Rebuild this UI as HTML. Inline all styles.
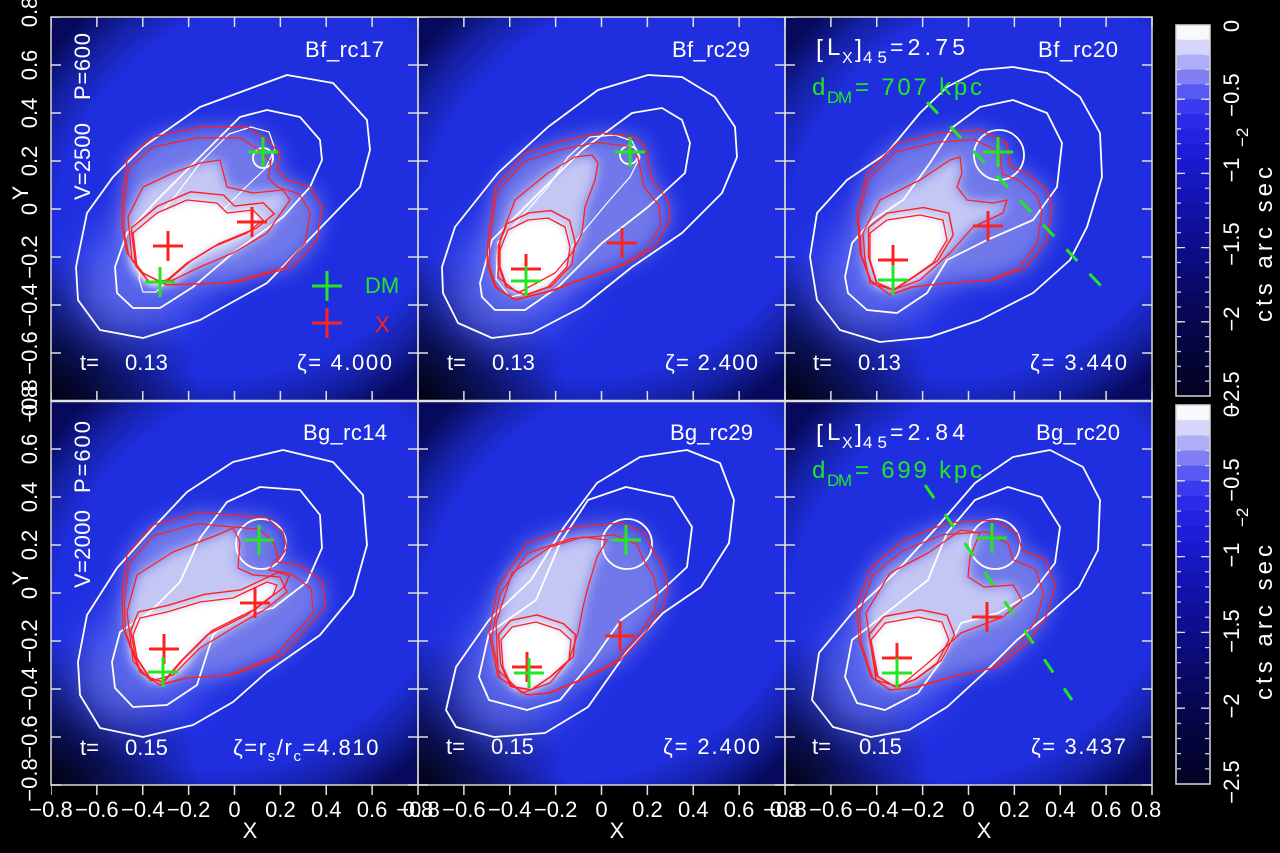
<!DOCTYPE html>
<html><head><meta charset="utf-8"><style>
html,body{margin:0;padding:0;background:#000;width:1280px;height:853px;overflow:hidden;}
svg{display:block;}
text{font-family:"Liberation Sans",sans-serif;}
</style></head><body>
<svg width="1280" height="853" viewBox="0 0 1280 853" xmlns="http://www.w3.org/2000/svg" style="overflow:hidden">
<defs>
<filter id="b20" x="-60%" y="-60%" width="220%" height="220%"><feGaussianBlur stdDeviation="20"/></filter>
<filter id="b10" x="-60%" y="-60%" width="220%" height="220%"><feGaussianBlur stdDeviation="10"/></filter>
<filter id="b6" x="-60%" y="-60%" width="220%" height="220%"><feGaussianBlur stdDeviation="6"/></filter>
<filter id="b4" x="-60%" y="-60%" width="220%" height="220%"><feGaussianBlur stdDeviation="4"/></filter>
<clipPath id="pc"><rect x="0" y="0" width="367" height="384"/></clipPath>
<radialGradient id="corner" cx="0" cy="384" r="150" gradientUnits="userSpaceOnUse">
<stop offset="0" stop-color="#000006" stop-opacity="0.85"/><stop offset="0.5" stop-color="#000006" stop-opacity="0.45"/><stop offset="1" stop-color="#000006" stop-opacity="0"/>
</radialGradient>
<radialGradient id="h1" gradientUnits="userSpaceOnUse" cx="210" cy="170" r="300" gradientTransform="rotate(-35 210 170) translate(210 170) scale(1 0.808) translate(-210 -170)">
<stop offset="0" stop-color="#1f2fe0"/><stop offset="0.72" stop-color="#1f2fe0"/><stop offset="0.87" stop-color="#1420a4"/><stop offset="1" stop-color="#070a5c"/>
</radialGradient>
<radialGradient id="h2" gradientUnits="userSpaceOnUse" cx="205" cy="175" r="300" gradientTransform="rotate(-38 205 175) translate(205 175) scale(1 0.808) translate(-205 -175)">
<stop offset="0" stop-color="#1f2fe0"/><stop offset="0.72" stop-color="#1f2fe0"/><stop offset="0.87" stop-color="#1420a4"/><stop offset="1" stop-color="#070a5c"/>
</radialGradient>
<radialGradient id="h3" gradientUnits="userSpaceOnUse" cx="200" cy="180" r="300" gradientTransform="rotate(-45 200 180) translate(200 180) scale(1 0.808) translate(-200 -180)">
<stop offset="0" stop-color="#1f2fe0"/><stop offset="0.72" stop-color="#1f2fe0"/><stop offset="0.87" stop-color="#1420a4"/><stop offset="1" stop-color="#070a5c"/>
</radialGradient>
<g id="bands">
<rect x="0" y="0" width="34" height="1.05" fill="#f8f8ff"/>
<rect x="0" y="1" width="34" height="1.05" fill="#d6d6fc"/>
<rect x="0" y="2" width="34" height="1.05" fill="#adadf8"/>
<rect x="0" y="3" width="34" height="1.05" fill="#8080f4"/>
<rect x="0" y="4" width="34" height="1.05" fill="#5858f2"/>
<rect x="0" y="5" width="34" height="1.05" fill="#3a3aee"/>
<rect x="0" y="6" width="34" height="1.05" fill="#2a2ae8"/>
<rect x="0" y="7" width="34" height="1.05" fill="#2222e0"/>
<rect x="0" y="8" width="34" height="1.05" fill="#1d1dd6"/>
<rect x="0" y="9" width="34" height="1.05" fill="#1a1acc"/>
<rect x="0" y="10" width="34" height="1.05" fill="#1717c0"/>
<rect x="0" y="11" width="34" height="1.05" fill="#1414b4"/>
<rect x="0" y="12" width="34" height="1.05" fill="#1212a8"/>
<rect x="0" y="13" width="34" height="1.05" fill="#10109c"/>
<rect x="0" y="14" width="34" height="1.05" fill="#0e0e90"/>
<rect x="0" y="15" width="34" height="1.05" fill="#0c0c84"/>
<rect x="0" y="16" width="34" height="1.05" fill="#0b0b78"/>
<rect x="0" y="17" width="34" height="1.05" fill="#0a0a6c"/>
<rect x="0" y="18" width="34" height="1.05" fill="#080860"/>
<rect x="0" y="19" width="34" height="1.05" fill="#070756"/>
<rect x="0" y="20" width="34" height="1.05" fill="#06064c"/>
<rect x="0" y="21" width="34" height="1.05" fill="#050542"/>
<rect x="0" y="22" width="34" height="1.05" fill="#040438"/>
<rect x="0" y="23" width="34" height="1.05" fill="#03032e"/>
<rect x="0" y="24" width="34" height="1" fill="#020224"/>
</g>
<pattern id="tx" x="50.25" y="0" width="45.875" height="853" patternUnits="userSpaceOnUse"><rect x="0" y="0" width="1.5" height="853" fill="#e0e0e0"/></pattern>
<pattern id="ty" x="0" y="16.25" width="1280" height="48" patternUnits="userSpaceOnUse"><rect x="0" y="0" width="1280" height="1.5" fill="#e0e0e0"/></pattern>
<pattern id="ct1" x="0" y="24.4" width="1280" height="14.84" patternUnits="userSpaceOnUse"><rect x="0" y="0" width="1280" height="1.2" fill="#e0e0e0"/></pattern>
<pattern id="ct2" x="0" y="404.4" width="1280" height="15.16" patternUnits="userSpaceOnUse"><rect x="0" y="0" width="1280" height="1.2" fill="#e0e0e0"/></pattern>

<polygon id="p1o" points="25,250 36,196 62,160 92,130 149,90 236,58 282,66 316,103 319,133 309,170 216,266 149,303 92,321 49,313 27,283"/>
<polygon id="p1i" points="64,250 76,216 106,183 149,140 189,100 216,93 249,100 269,123 271,143 259,170 232,200 182,236 142,270 109,291 82,291 66,276"/>
<polygon id="p1t" points="88,262 92,228 106,200 125,178 150,145 178,117 200,110 218,115 224,132 214,152 195,170 170,195 145,225 125,255 105,275 92,275"/>
<polygon id="p1ro" points="71,183 76,143 102,120 149,110 196,110 216,123 229,136 226,153 236,163 259,170 271,190 266,223 242,250 182,266 116,268 92,256 76,236 71,210"/>
<polygon id="p1rm" points="77,200 92,170 122,156 149,146 169,143 176,170 202,176 232,173 239,183 216,216 182,236 149,250 122,263 99,266 81,243"/>
<polygon id="p1rc" points="82,216 106,196 136,183 166,186 176,196 202,193 212,203 196,216 162,230 136,246 116,263 99,266 86,250"/>

<polygon id="p2o" points="24,250 37,210 80,156 130,110 180,73 230,58 264,60 297,80 317,110 319,140 304,176 264,216 214,250 164,290 114,316 74,321 40,306 25,276"/>
<polygon id="p2i" points="62,266 74,223 114,183 164,133 214,96 244,91 264,103 272,126 267,156 230,190 184,226 140,270 107,293 77,293 64,280"/>
<polygon id="p2t" points="78,262 80,225 107,196 130,170 150,140 172,120 197,118 214,124 222,140 212,160 190,185 165,215 140,248 115,275 92,280"/>
<polygon id="p2ro" points="70,223 77,170 107,136 147,123 184,116 217,120 227,130 230,143 234,163 250,183 252,203 237,230 210,246 184,256 154,266 137,273 97,283 77,270 69,246"/>
<polygon id="p2rm" points="82,223 97,183 130,156 157,140 174,138 180,146 177,163 167,190 164,216 154,236 137,256 100,276 80,260"/>
<polygon id="p2rc" points="82,233 90,213 110,203 130,201 147,210 152,230 149,250 130,270 107,278 89,270 82,250"/>

<polygon id="p3o" points="25,240 32,196 62,163 102,136 135,96 162,70 195,53 228,50 262,56 295,80 315,116 317,160 302,210 285,243 248,276 195,303 145,320 95,325 55,313 32,283"/>
<polygon id="p3i" points="60,260 67,226 88,203 118,183 145,146 168,110 195,90 228,83 262,96 277,126 272,170 248,203 202,223 162,243 142,276 112,296 82,293 63,276"/>
<polygon id="p3ro" points="72,196 82,156 112,126 155,116 195,113 222,126 225,150 242,156 262,173 267,190 262,223 242,250 208,263 162,266 128,270 105,278 85,263 75,236"/>
<polygon id="p3rm" points="78,216 95,183 135,163 165,143 175,140 177,156 172,170 182,183 208,186 222,183 218,196 188,210 165,236 135,263 108,273 85,266 80,243"/>
<polygon id="p3rc" points="85,216 102,203 135,198 158,203 162,223 148,246 128,260 108,273 92,266 85,243"/>

<polygon id="p4o" points="27,261 36,214 66,167 102,127 136,91 182,61 232,49 282,61 312,94 316,144 302,194 269,234 216,271 182,301 142,324 92,336 49,327 29,294"/>
<polygon id="p4i" points="61,261 69,231 99,211 129,181 149,137 176,101 209,86 249,89 269,114 271,147 256,181 222,207 182,214 162,234 146,284 116,304 82,306 64,287"/>
<polygon id="p4ro" points="71,194 76,154 102,124 149,111 182,114 216,117 232,131 236,147 226,161 249,164 272,181 274,207 256,227 232,254 182,274 136,277 109,284 89,271 72,227"/>
<polygon id="p4rm" points="76,211 86,174 122,151 166,134 182,127 189,141 187,167 202,174 229,176 236,191 216,207 182,227 149,247 122,274 100,280 82,260"/>
<polygon id="p4rc" points="82,234 89,217 116,211 149,201 182,197 216,181 226,184 222,194 196,214 156,234 129,261 112,281 99,277 86,257"/>

<polygon id="p5o" points="28,309 38,266 71,219 113,179 146,126 179,82 222,56 269,49 302,62 316,99 311,142 283,186 245,212 208,252 170,306 127,332 76,336 38,326"/>
<polygon id="p5i" points="61,276 71,232 118,199 142,142 170,99 208,86 255,96 274,126 269,166 241,192 203,219 175,259 142,299 109,309 71,299"/>
<polygon id="p5ro" points="71,232 80,186 109,142 156,126 203,122 227,132 236,152 245,166 250,186 245,206 227,232 203,259 170,276 132,292 109,294 80,276"/>
<polygon id="p5rm" points="78,222 94,172 132,146 165,136 189,139 179,156 170,186 165,206 160,232 151,259 132,282 104,292 80,269"/>
<polygon id="p5rc" points="83,239 94,226 118,221 142,229 153,239 151,259 132,276 113,289 94,286 85,266"/>

<polygon id="p6o" points="27,299 34,252 67,212 110,172 152,126 190,82 228,56 265,49 298,66 315,99 313,149 294,186 265,212 232,239 199,272 162,306 124,329 86,336 48,326"/>
<polygon id="p6i" points="60,276 67,239 105,209 143,179 162,132 190,99 223,86 256,96 275,126 270,162 247,192 213,212 176,222 157,259 133,292 100,309 72,302"/>
<polygon id="p6ro" points="72,206 86,166 119,139 162,122 209,119 232,132 237,149 261,159 270,186 261,216 242,242 213,266 166,276 133,286 105,289 86,276 74,239"/>
<polygon id="p6rm" points="81,212 105,172 143,152 176,129 195,132 185,156 183,176 199,186 228,184 237,199 218,216 176,232 143,262 114,286 91,279"/>
<polygon id="p6rc" points="86,239 100,222 133,216 157,221 164,239 152,262 129,279 110,286 93,276"/>
</defs>

<rect x="0" y="0" width="1280" height="853" fill="#000"/>

<!-- ============ PANEL 1 ============ -->
<g transform="translate(51,17)"><g clip-path="url(#pc)">
<rect width="367" height="384" fill="url(#h1)"/>
<rect width="367" height="384" fill="url(#corner)"/>
<ellipse cx="100" cy="250" rx="80" ry="55" transform="rotate(-40 100 250)" fill="#6c78f6" opacity="0.75" filter="url(#b20)"/>
<use href="#p1ro" fill="#7078ea" filter="url(#b10)"/>
<use href="#p1rm" fill="#c4c6f4" filter="url(#b6)"/>
<use href="#p1rc" fill="#fff" filter="url(#b4)"/>
<circle cx="108" cy="240" r="26" fill="#fff" filter="url(#b6)"/>
<g fill="none" stroke="#fff" stroke-width="1.8" stroke-linejoin="round"><use href="#p1o"/><use href="#p1i"/><use href="#p1t" stroke-width="1.2"/><circle cx="212" cy="141" r="10"/></g>
<g fill="none" stroke="#ff2020" stroke-width="1.3" stroke-linejoin="round"><use href="#p1ro"/><use href="#p1ro" transform="translate(100 265) scale(0.93) translate(-100 -265)"/><use href="#p1rm"/><use href="#p1rc"/><use href="#p1rc" transform="translate(100 265) scale(1.1) translate(-100 -265)"/></g>
<path d="M102 229H132M117 214V244M186 205H216M201 190V220M261 306H291M276 291V321" stroke="#ff2020" stroke-width="3" fill="none"/>
<path d="M197 135H227M212 120V150M94 265H124M109 250V280M261 269H291M276 254V284" stroke="#22e622" stroke-width="3" fill="none"/>
<g fill="#fff" font-size="22">
<text x="254" y="40" textLength="79">Bf_rc17</text>
<text transform="translate(39,183) rotate(-90)" textLength="77">V=2500</text>
<text transform="translate(39,83) rotate(-90)" textLength="67">P=600</text>
<text x="29" y="353">t=</text><text x="74" y="353">0.13</text>
<text x="246" y="353" textLength="95">ζ= 4.000</text>
</g>
<text x="314" y="276" font-size="22" fill="#22e622">DM</text>
<text x="324" y="315" font-size="22" fill="#ff2020">X</text>
</g></g>

<!-- ============ PANEL 2 ============ -->
<g transform="translate(418,17)"><g clip-path="url(#pc)">
<rect width="367" height="384" fill="url(#h1)"/>
<rect width="367" height="384" fill="url(#corner)"/>
<ellipse cx="105" cy="252" rx="80" ry="55" transform="rotate(-45 105 252)" fill="#6c78f6" opacity="0.75" filter="url(#b20)"/>
<use href="#p2ro" fill="#7078ea" filter="url(#b10)"/>
<use href="#p2rm" fill="#c4c6f4" filter="url(#b6)"/>
<use href="#p2rc" fill="#fff" filter="url(#b4)"/>
<circle cx="116" cy="242" r="28" fill="#fff" filter="url(#b6)"/>
<g fill="none" stroke="#fff" stroke-width="1.8" stroke-linejoin="round"><use href="#p2o"/><use href="#p2i"/><use href="#p2t" stroke-width="1.2"/><circle cx="211" cy="138" r="9"/></g>
<g fill="none" stroke="#ff2020" stroke-width="1.3" stroke-linejoin="round"><use href="#p2ro"/><use href="#p2ro" transform="translate(100 275) scale(0.94) translate(-100 -275)"/><use href="#p2rm"/><use href="#p2rc"/><use href="#p2rc" transform="translate(100 275) scale(1.1) translate(-100 -275)"/></g>
<path d="M93 252H123M108 237V267M189 226H219M204 211V241" stroke="#ff2020" stroke-width="3" fill="none"/>
<path d="M197 135H227M212 120V150M93 264H123M108 249V279" stroke="#22e622" stroke-width="3" fill="none"/>
<g fill="#fff" font-size="22">
<text x="254" y="40" textLength="78">Bf_rc29</text>
<text x="29" y="353">t=</text><text x="74" y="353">0.13</text>
<text x="247" y="353" textLength="93">ζ= 2.400</text>
</g>
</g></g>

<!-- ============ PANEL 3 ============ -->
<g transform="translate(785,17)"><g clip-path="url(#pc)">
<rect width="367" height="384" fill="url(#h1)"/>
<rect width="367" height="384" fill="url(#corner)"/>
<ellipse cx="105" cy="245" rx="80" ry="55" transform="rotate(-45 105 245)" fill="#6c78f6" opacity="0.75" filter="url(#b20)"/>
<use href="#p3ro" fill="#7078ea" filter="url(#b10)"/>
<use href="#p3rm" fill="#c4c6f4" filter="url(#b6)"/>
<use href="#p3rc" fill="#fff" filter="url(#b4)"/>
<circle cx="118" cy="232" r="30" fill="#fff" filter="url(#b6)"/>
<g fill="none" stroke="#fff" stroke-width="1.8" stroke-linejoin="round"><use href="#p3o"/><use href="#p3i"/><circle cx="214" cy="138" r="25"/></g>
<g fill="none" stroke="#ff2020" stroke-width="1.3" stroke-linejoin="round"><use href="#p3ro"/><use href="#p3ro" transform="translate(100 272) scale(0.94) translate(-100 -272)"/><use href="#p3rm"/><use href="#p3rc"/><use href="#p3rc" transform="translate(100 272) scale(1.1) translate(-100 -272)"/></g>
<line x1="142" y1="85" x2="317" y2="270" stroke="#22e622" stroke-width="3" stroke-dasharray="16 17.8"/>
<path d="M93 243H123M108 228V258M188 209H218M203 194V224" stroke="#ff2020" stroke-width="3" fill="none"/>
<path d="M198 135H228M213 120V150M93 263H123M108 248V278" stroke="#22e622" stroke-width="3" fill="none"/>
<g fill="#fff" font-size="22">
<text x="253" y="40" textLength="80">Bf_rc20</text>
<text x="31" y="40" font-size="25">[</text>
<text x="42" y="38" font-size="24" textLength="15">L</text>
<text x="57" y="46" font-size="16" textLength="13">X</text>
<text x="70" y="40" font-size="25">]</text>
<text x="78" y="46" font-size="17" textLength="24">45</text>
<text x="105" y="38" font-size="23" textLength="75">=2.75</text>
<text x="28" y="353">t=</text><text x="73" y="353">0.13</text>
<text x="245" y="353" textLength="97">ζ= 3.440</text>
</g>
<g fill="#22e622">
<text x="27" y="78" font-size="24" textLength="15">d</text>
<text x="42" y="86" font-size="17" textLength="25">DM</text>
<text x="70" y="78" font-size="24" textLength="127">= 707 kpc</text>
</g>
</g></g>

<!-- ============ PANEL 4 ============ -->
<g transform="translate(51,401)"><g clip-path="url(#pc)">
<rect width="367" height="384" fill="url(#h2)"/>
<rect width="367" height="384" fill="url(#corner)"/>
<ellipse cx="100" cy="255" rx="80" ry="55" transform="rotate(-40 100 255)" fill="#6c78f6" opacity="0.75" filter="url(#b20)"/>
<use href="#p4ro" fill="#7078ea" filter="url(#b10)"/>
<use href="#p4rm" fill="#c4c6f4" filter="url(#b6)"/>
<use href="#p4rc" fill="#fff" filter="url(#b4)"/>
<circle cx="112" cy="245" r="28" fill="#fff" filter="url(#b6)"/>
<g fill="none" stroke="#fff" stroke-width="1.8" stroke-linejoin="round"><use href="#p4o"/><use href="#p4i"/><circle cx="210" cy="143" r="25"/></g>
<g fill="none" stroke="#ff2020" stroke-width="1.3" stroke-linejoin="round"><use href="#p4ro"/><use href="#p4ro" transform="translate(105 278) scale(0.93) translate(-105 -278)"/><use href="#p4rm"/><use href="#p4rc"/><use href="#p4rc" transform="translate(105 278) scale(1.1) translate(-105 -278)"/></g>
<path d="M98 248H128M113 233V263M189 202H219M204 187V217" stroke="#ff2020" stroke-width="3" fill="none"/>
<path d="M193 139H223M208 124V154M97 271H127M112 256V286" stroke="#22e622" stroke-width="3" fill="none"/>
<g fill="#fff" font-size="22">
<text x="252" y="39" textLength="84">Bg_rc14</text>
<text transform="translate(39,187) rotate(-90)" textLength="78">V=2000</text>
<text transform="translate(39,92) rotate(-90)" textLength="72">P=600</text>
<text x="29" y="354">t=</text><text x="74" y="354">0.15</text>
<text x="182" y="354" letter-spacing="1.6">ζ=r<tspan font-size="15" dy="6">s</tspan><tspan dy="-6">/r</tspan><tspan font-size="15" dy="6">c</tspan><tspan dy="-6">=4.810</tspan></text>
</g>
</g></g>

<!-- ============ PANEL 5 ============ -->
<g transform="translate(418,401)"><g clip-path="url(#pc)">
<rect width="367" height="384" fill="url(#h3)"/>
<rect width="367" height="384" fill="url(#corner)"/>
<ellipse cx="105" cy="262" rx="80" ry="55" transform="rotate(-55 105 262)" fill="#6c78f6" opacity="0.75" filter="url(#b20)"/>
<use href="#p5ro" fill="#7078ea" filter="url(#b10)"/>
<use href="#p5rm" fill="#c4c6f4" filter="url(#b6)"/>
<use href="#p5rc" fill="#fff" filter="url(#b4)"/>
<circle cx="118" cy="252" r="26" fill="#fff" filter="url(#b6)"/>
<g fill="none" stroke="#fff" stroke-width="1.8" stroke-linejoin="round"><use href="#p5o"/><use href="#p5i"/><circle cx="209" cy="143" r="25"/></g>
<g fill="none" stroke="#ff2020" stroke-width="1.3" stroke-linejoin="round"><use href="#p5ro"/><use href="#p5ro" transform="translate(108 292) scale(0.93) translate(-108 -292)"/><use href="#p5rm"/><use href="#p5rc"/><use href="#p5rc" transform="translate(108 292) scale(1.1) translate(-108 -292)"/></g>
<path d="M94 266H124M109 251V281M187 235H217M202 220V250" stroke="#ff2020" stroke-width="3" fill="none"/>
<path d="M193 139H223M208 124V154M96 272H126M111 257V287" stroke="#22e622" stroke-width="3" fill="none"/>
<g fill="#fff" font-size="22">
<text x="252" y="39" textLength="83">Bg_rc29</text>
<text x="28" y="353">t=</text><text x="73" y="353">0.15</text>
<text x="245" y="353" textLength="97">ζ= 2.400</text>
</g>
</g></g>

<!-- ============ PANEL 6 ============ -->
<g transform="translate(785,401)"><g clip-path="url(#pc)">
<rect width="367" height="384" fill="url(#h3)"/>
<rect width="367" height="384" fill="url(#corner)"/>
<ellipse cx="105" cy="258" rx="80" ry="55" transform="rotate(-50 105 258)" fill="#6c78f6" opacity="0.75" filter="url(#b20)"/>
<use href="#p6ro" fill="#7078ea" filter="url(#b10)"/>
<use href="#p6rm" fill="#c4c6f4" filter="url(#b6)"/>
<use href="#p6rc" fill="#fff" filter="url(#b4)"/>
<circle cx="122" cy="248" r="28" fill="#fff" filter="url(#b6)"/>
<g fill="none" stroke="#fff" stroke-width="1.8" stroke-linejoin="round"><use href="#p6o"/><use href="#p6i"/><circle cx="210" cy="143" r="25"/></g>
<g fill="none" stroke="#ff2020" stroke-width="1.3" stroke-linejoin="round"><use href="#p6ro"/><use href="#p6ro" transform="translate(108 288) scale(0.93) translate(-108 -288)"/><use href="#p6rm"/><use href="#p6rc"/><use href="#p6rc" transform="translate(108 288) scale(1.1) translate(-108 -288)"/></g>
<line x1="140" y1="84" x2="287" y2="299" stroke="#22e622" stroke-width="3" stroke-dasharray="16 19.2"/>
<path d="M97 257H127M112 242V272M187 216H217M202 201V231" stroke="#ff2020" stroke-width="3" fill="none"/>
<path d="M192 137H222M207 122V152M97 272H127M112 257V287" stroke="#22e622" stroke-width="3" fill="none"/>
<g fill="#fff" font-size="22">
<text x="251" y="39" textLength="84">Bg_rc20</text>
<text x="31" y="41" font-size="25">[</text>
<text x="42" y="39" font-size="24" textLength="15">L</text>
<text x="57" y="47" font-size="16" textLength="13">X</text>
<text x="70" y="41" font-size="25">]</text>
<text x="78" y="47" font-size="17" textLength="24">45</text>
<text x="105" y="39" font-size="23" textLength="75">=2.84</text>
<text x="27" y="353">t=</text><text x="74" y="353">0.15</text>
<text x="246" y="353" textLength="95">ζ= 3.437</text>
</g>
<g fill="#22e622">
<text x="27" y="77" font-size="24" textLength="15">d</text>
<text x="42" y="85" font-size="17" textLength="25">DM</text>
<text x="70" y="77" font-size="24" textLength="127">= 699 kpc</text>
</g>
</g></g>

<!-- frames -->
<g fill="none" stroke="#d8d8d8" stroke-width="1.5">
<rect x="51" y="17" width="367" height="384"/><rect x="418" y="17" width="367" height="384"/><rect x="785" y="17" width="367" height="384"/>
<rect x="51" y="401" width="367" height="384"/><rect x="418" y="401" width="367" height="384"/><rect x="785" y="401" width="367" height="384"/>
</g>
<line x1="51" y1="401" x2="1152" y2="401" stroke="#e0e0e0" stroke-width="2.5"/>

<!-- ticks -->
<rect x="51" y="17" width="1102" height="10" fill="url(#tx)"/>
<rect x="51" y="391" width="1102" height="10" fill="url(#tx)"/>
<rect x="51" y="785" width="1102" height="10" fill="url(#tx)"/>
<g fill="url(#ty)">
<rect x="51" y="17" width="10" height="769"/><rect x="408" y="17" width="20" height="769"/>
<rect x="775" y="17" width="20" height="769"/><rect x="1142" y="17" width="10" height="769"/>
</g>

<!-- colorbars -->
<use href="#bands" transform="translate(1176 25) scale(1 14.84)"/>
<use href="#bands" transform="translate(1176 405) scale(1 15.16)"/>
<rect x="1176" y="25" width="34" height="371" fill="none" stroke="#d8d8d8" stroke-width="1.5"/>
<rect x="1176" y="405" width="34" height="379" fill="none" stroke="#d8d8d8" stroke-width="1.5"/>
<rect x="1177" y="27" width="4" height="368" fill="url(#ct1)"/><rect x="1205" y="27" width="4" height="368" fill="url(#ct1)"/>
<rect x="1177" y="407" width="4" height="376" fill="url(#ct2)"/><rect x="1205" y="407" width="4" height="376" fill="url(#ct2)"/>
<g stroke="#e0e0e0" stroke-width="1.3">
<path d="M1177 99.2H1185M1177 173.4H1185M1177 247.6H1185M1177 321.8H1185M1201 99.2H1209M1201 173.4H1209M1201 247.6H1209M1201 321.8H1209"/>
<path d="M1177 480.8H1185M1177 556.6H1185M1177 632.4H1185M1177 708.2H1185M1201 480.8H1209M1201 556.6H1209M1201 632.4H1209M1201 708.2H1209"/>
</g>
<g fill="#fff" font-size="22" text-anchor="middle">
<text transform="translate(1239,26) rotate(-90)">0</text>
<text transform="translate(1239,95) rotate(-90)">−0.5</text>
<text transform="translate(1239,170) rotate(-90)">−1</text>
<text transform="translate(1239,244) rotate(-90)">−1.5</text>
<text transform="translate(1239,319) rotate(-90)">−2</text>
<text transform="translate(1239,393) rotate(-90)">−2.5</text>
<text transform="translate(1239,411) rotate(-90)">0</text>
<text transform="translate(1239,480) rotate(-90)">−0.5</text>
<text transform="translate(1239,555) rotate(-90)">−1</text>
<text transform="translate(1239,631) rotate(-90)">−1.5</text>
<text transform="translate(1239,706) rotate(-90)">−2</text>
<text transform="translate(1239,782) rotate(-90)">−2.5</text>
</g>
<g fill="#fff">
<text transform="translate(1272,322) rotate(-90)" font-size="24" textLength="155">cts arc sec</text>
<text transform="translate(1248,147) rotate(-90)" font-size="17">−2</text>
<text transform="translate(1272,700) rotate(-90)" font-size="24" textLength="155">cts arc sec</text>
<text transform="translate(1248,527) rotate(-90)" font-size="17">−2</text>
</g>

<!-- y axis labels -->
<g fill="#fff" font-size="22" text-anchor="middle">
<text transform="translate(37,12) rotate(-90)">0.8</text>
<text transform="translate(37,65) rotate(-90)">0.6</text>
<text transform="translate(37,113) rotate(-90)">0.4</text>
<text transform="translate(37,161) rotate(-90)">0.2</text>
<text transform="translate(37,209) rotate(-90)">0</text>
<text transform="translate(37,257) rotate(-90)">−0.2</text>
<text transform="translate(37,305) rotate(-90)">−0.4</text>
<text transform="translate(37,353) rotate(-90)">−0.6</text>
<text transform="translate(37,401) rotate(-90)">−0.8</text>
<text transform="translate(37,401) rotate(-90)">0.8</text>
<text transform="translate(37,449) rotate(-90)">0.6</text>
<text transform="translate(37,497) rotate(-90)">0.4</text>
<text transform="translate(37,545) rotate(-90)">0.2</text>
<text transform="translate(37,593) rotate(-90)">0</text>
<text transform="translate(37,641) rotate(-90)">−0.2</text>
<text transform="translate(37,689) rotate(-90)">−0.4</text>
<text transform="translate(37,737) rotate(-90)">−0.6</text>
<text transform="translate(37,780) rotate(-90)">−0.8</text>
<text transform="translate(28,193) rotate(-90)">Y</text>
<text transform="translate(28,578) rotate(-90)">Y</text>
</g>

<!-- x axis labels -->
<g fill="#fff" font-size="22" text-anchor="middle">
<text x="51" y="817">−0.8</text><text x="96.9" y="817">−0.6</text><text x="142.75" y="817">−0.4</text><text x="188.6" y="817">−0.2</text><text x="234.5" y="817">0</text><text x="280.4" y="817">0.2</text><text x="326.25" y="817">0.4</text><text x="372.1" y="817">0.6</text><text x="418" y="817">0.8</text>
<text x="418" y="817">−0.8</text><text x="463.9" y="817">−0.6</text><text x="509.75" y="817">−0.4</text><text x="555.6" y="817">−0.2</text><text x="601.5" y="817">0</text><text x="647.4" y="817">0.2</text><text x="693.25" y="817">0.4</text><text x="739.1" y="817">0.6</text><text x="785" y="817">0.8</text>
<text x="785" y="817">−0.8</text><text x="830.9" y="817">−0.6</text><text x="876.75" y="817">−0.4</text><text x="922.6" y="817">−0.2</text><text x="968.5" y="817">0</text><text x="1014.4" y="817">0.2</text><text x="1060.25" y="817">0.4</text><text x="1106.1" y="817">0.6</text><text x="1146" y="817">0.8</text>
<text x="250" y="838">X</text><text x="617" y="838">X</text><text x="984" y="838">X</text>
</g>
</svg>
</body></html>
